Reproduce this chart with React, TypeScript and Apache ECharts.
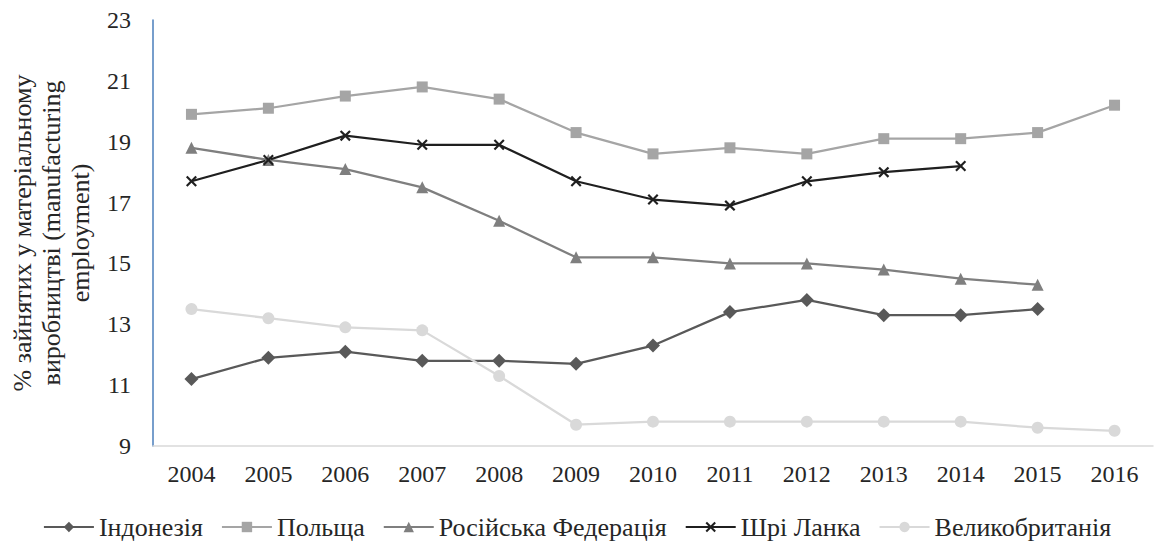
import React, { useEffect, useRef } from "react";
import * as echarts from "echarts";

const years = ["2004","2005","2006","2007","2008","2009","2010","2011","2012","2013","2014","2015","2016"];
const indonesia = [11.2, 11.9, 12.1, 11.8, 11.8, 11.7, 12.3, 13.4, 13.8, 13.3, 13.3, 13.5, null];
const poland = [19.9, 20.1, 20.5, 20.8, 20.4, 19.3, 18.6, 18.8, 18.6, 19.1, 19.1, 19.3, 20.2];
const russia = [18.8, 18.4, 18.1, 17.5, 16.4, 15.2, 15.2, 15.0, 15.0, 14.8, 14.5, 14.3, null];
const sriLanka = [17.7, 18.4, 19.2, 18.9, 18.9, 17.7, 17.1, 16.9, 17.7, 18.0, 18.2, null, null];
const uk = [13.5, 13.2, 12.9, 12.8, 11.3, 9.7, 9.8, 9.8, 9.8, 9.8, 9.8, 9.6, 9.5];

const yTitle = "% зайнятих у матеріальному\nвиробництві (manufacturing\nemployment)";
const font = "Liberation Serif";
const textColor = "#262626";
const xSymbol = "path://M0,1.4L1.4,0L5,3.6L8.6,0L10,1.4L6.4,5L10,8.6L8.6,10L5,6.4L1.4,10L0,8.6L3.6,5Z";

export default function App() {
  const ref = useRef<HTMLDivElement>(null);
  useEffect(() => {
    document.body.style.margin = "0";
    const chart = echarts.init(ref.current!, null, { renderer: "svg" });
    const mk = (name: string, data: any[], color: string, symbol: string, size: number) => ({
      name,
      type: "line",
      data,
      symbol,
      symbolSize: size,
      showAllSymbol: true,
      lineStyle: { color, width: 2.25 },
      itemStyle: { color },
      connectNulls: false,
    });
    chart.setOption({
      animation: false,
      textStyle: { fontFamily: font, fontSize: 24 },
      grid: { left: 149, right: 1, top: 20, bottom: 96, containLabel: false },
      legend: {
        top: 514,
        left: "center",
        padding: 0,
        itemWidth: 50,
        itemHeight: 13,
        itemGap: 18,
        textStyle: { fontFamily: font, fontSize: 26, color: textColor },
      },
      xAxis: {
        type: "category",
        data: years,
        boundaryGap: true,
        axisLine: { lineStyle: { color: "#D9D9D9", width: 1.5 } },
        axisTick: { show: false },
        axisLabel: { fontFamily: font, fontSize: 24, color: textColor, margin: 16 },
      },
      yAxis: {
        type: "value",
        min: 9,
        max: 23,
        interval: 1,
        splitLine: { show: false },
        axisLine: { show: true, lineStyle: { color: "#4A7EBB", width: 1.5 } },
        axisTick: { show: false },
        axisLabel: {
          fontFamily: font,
          fontSize: 24,
          color: textColor,
          margin: 22,
          formatter: (v: number) => (v % 2 === 1 ? String(v) : ""),
        },
        name: yTitle,
        nameLocation: "middle",
        nameRotate: 90,
        nameGap: 58,
        nameTextStyle: { fontFamily: font, fontSize: 26, color: textColor, lineHeight: 29 },
      },
      series: [
        mk("Індонезія", indonesia, "#595959", "diamond", 14),
        mk("Польща", poland, "#A5A5A5", "rect", 11),
        mk("Російська Федерація", russia, "#7F7F7F", "triangle", 12),
        mk("Шрі Ланка", sriLanka, "#1F1F1F", xSymbol, 11),
        mk("Великобританія", uk, "#D9D9D9", "circle", 12),
      ],
    });
    return () => chart.dispose();
  }, []);
  return <div ref={ref} style={{ width: 1154, height: 542 }} />;
}
